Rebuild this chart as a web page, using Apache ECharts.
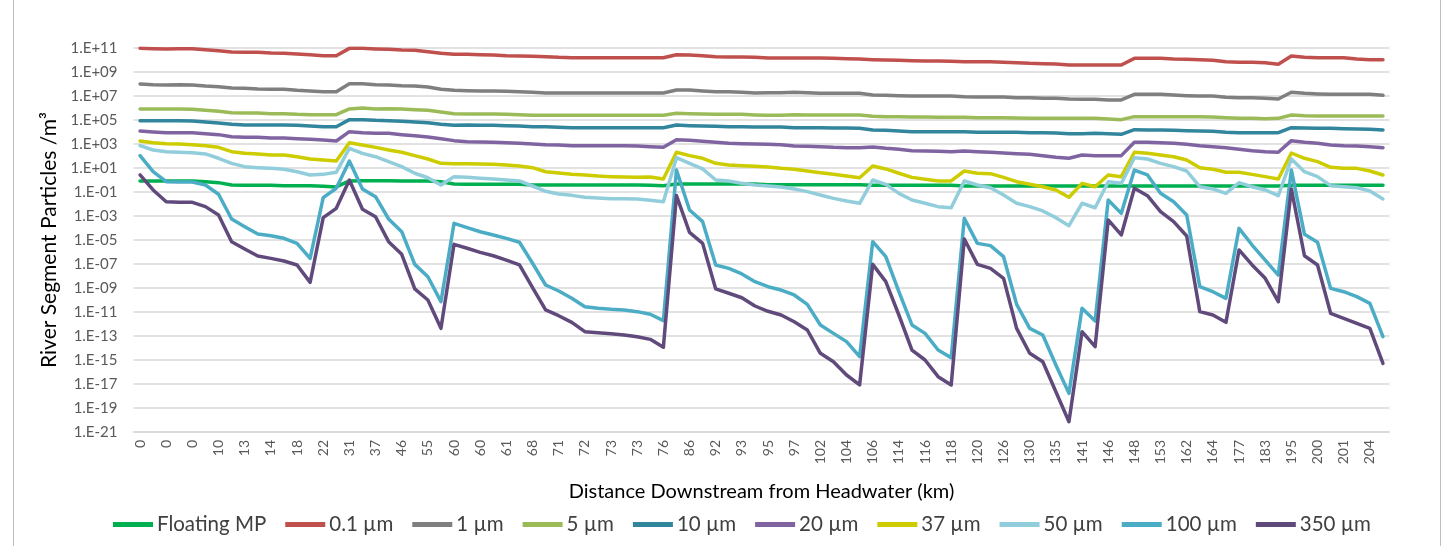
<!DOCTYPE html>
<html>
<head>
<meta charset="utf-8">
<title>River Segment Particles</title>
<script src="https://cdn.jsdelivr.net/npm/echarts@6/dist/echarts.min.js"></script>
<style>
  html, body { margin: 0; padding: 0; background: #ffffff; }
  #chart { width: 1452px; height: 546px; }
</style>
</head>
<body>
<div id="chart"></div>
<script>
// Distance labels (km) shown under every second station; the stations in between are unlabelled.
const distanceLabels = ['0','0','0','10','13','14','18','22','31','37','46','55','60','60','61','68',
  '71','72','73','73','76','86','92','93','95','97','102','104','106','114','116','118',
  '120','126','130','135','141','146','148','153','162','164','177','183','195','200','201','204'];
const stationCount = 96;

// Concentrations per river segment, stored as log10(particles / m^3).
const floatingMP = [-0.08,-0.08,-0.08,-0.08,-0.08,-0.14,-0.22,-0.42,-0.44,-0.44,-0.44,-0.47,-0.47,-0.47,-0.53,-0.58,
  -0.08,-0.06,-0.06,-0.06,-0.08,-0.08,-0.08,-0.14,-0.33,-0.36,-0.36,-0.36,-0.36,-0.36,-0.42,-0.42,
  -0.42,-0.42,-0.42,-0.42,-0.42,-0.42,-0.42,-0.44,-0.47,-0.33,-0.33,-0.33,-0.33,-0.33,-0.33,-0.33,
  -0.39,-0.39,-0.39,-0.39,-0.39,-0.39,-0.39,-0.39,-0.44,-0.44,-0.44,-0.44,-0.44,-0.44,-0.44,-0.5,
  -0.5,-0.5,-0.5,-0.5,-0.5,-0.5,-0.5,-0.5,-0.5,-0.5,-0.5,-0.5,-0.5,-0.5,-0.5,-0.5,
  -0.5,-0.5,-0.5,-0.5,-0.5,-0.5,-0.5,-0.5,-0.44,-0.44,-0.44,-0.44,-0.44,-0.44,-0.44,-0.44];
const size0_1 = [10.97,10.94,10.92,10.94,10.94,10.86,10.78,10.67,10.64,10.64,10.58,10.56,10.5,10.44,10.36,10.36,
  10.97,10.97,10.92,10.89,10.83,10.81,10.69,10.56,10.47,10.47,10.44,10.42,10.36,10.33,10.31,10.28,
  10.22,10.19,10.19,10.19,10.19,10.19,10.19,10.19,10.19,10.44,10.42,10.36,10.28,10.25,10.25,10.22,
  10.17,10.17,10.17,10.17,10.17,10.14,10.11,10.08,10.03,10.0,9.97,9.94,9.92,9.92,9.89,9.86,
  9.86,9.86,9.81,9.78,9.72,9.69,9.67,9.58,9.58,9.58,9.58,9.58,10.14,10.14,10.14,10.08,
  10.06,10.03,9.97,9.86,9.81,9.81,9.78,9.64,10.33,10.22,10.19,10.19,10.19,10.08,10.03,10.03];
const size1 = [8.0,7.94,7.92,7.94,7.92,7.83,7.78,7.67,7.64,7.58,7.56,7.56,7.47,7.42,7.36,7.36,
  8.03,8.03,7.94,7.92,7.86,7.83,7.75,7.56,7.47,7.44,7.42,7.42,7.39,7.36,7.31,7.25,
  7.25,7.25,7.25,7.25,7.25,7.25,7.25,7.25,7.25,7.5,7.5,7.42,7.36,7.36,7.31,7.25,
  7.28,7.28,7.31,7.28,7.22,7.22,7.22,7.22,7.08,7.06,7.03,7.0,7.0,7.0,7.0,6.94,
  6.92,6.92,6.92,6.86,6.86,6.81,6.81,6.75,6.72,6.72,6.67,6.67,7.14,7.14,7.14,7.08,
  7.03,7.0,7.0,6.89,6.86,6.86,6.81,6.75,7.31,7.22,7.17,7.14,7.14,7.14,7.14,7.06];
const size5 = [5.92,5.92,5.92,5.92,5.89,5.81,5.72,5.61,5.58,5.58,5.53,5.53,5.47,5.44,5.44,5.44,
  5.92,6.0,5.92,5.94,5.92,5.86,5.81,5.67,5.53,5.5,5.5,5.5,5.47,5.44,5.39,5.39,
  5.39,5.39,5.39,5.39,5.39,5.39,5.39,5.39,5.39,5.56,5.53,5.5,5.47,5.47,5.47,5.42,
  5.39,5.39,5.44,5.42,5.42,5.42,5.42,5.42,5.31,5.28,5.28,5.25,5.25,5.22,5.22,5.22,
  5.19,5.19,5.19,5.17,5.14,5.14,5.14,5.14,5.14,5.14,5.08,5.03,5.28,5.28,5.28,5.28,
  5.28,5.28,5.25,5.19,5.14,5.14,5.11,5.14,5.42,5.36,5.33,5.33,5.33,5.33,5.33,5.33];
const size10 = [4.94,4.94,4.94,4.94,4.92,4.83,4.75,4.64,4.58,4.58,4.58,4.58,4.56,4.5,4.44,4.44,
  5.03,5.03,4.97,4.94,4.89,4.83,4.78,4.64,4.56,4.58,4.56,4.56,4.53,4.5,4.44,4.44,
  4.39,4.36,4.36,4.36,4.36,4.36,4.36,4.36,4.36,4.58,4.53,4.5,4.47,4.44,4.44,4.42,
  4.42,4.42,4.36,4.36,4.36,4.33,4.33,4.31,4.17,4.14,4.08,4.03,4.03,4.03,4.03,4.03,
  3.97,3.97,3.97,3.97,3.94,3.94,3.92,3.86,3.86,3.89,3.86,3.81,4.19,4.17,4.17,4.14,
  4.11,4.08,4.06,3.97,3.94,3.94,3.94,3.94,4.36,4.33,4.31,4.31,4.28,4.25,4.22,4.17];
const size20 = [4.08,4.0,3.94,3.94,3.94,3.86,3.78,3.61,3.56,3.56,3.5,3.5,3.44,3.39,3.33,3.25,
  4.03,3.94,3.89,3.89,3.78,3.69,3.58,3.44,3.28,3.19,3.17,3.14,3.11,3.06,3.0,2.94,
  2.92,2.86,2.86,2.86,2.86,2.86,2.83,2.78,2.72,3.36,3.31,3.22,3.14,3.06,3.03,3.0,
  2.97,2.94,2.83,2.81,2.78,2.72,2.69,2.69,2.75,2.64,2.56,2.44,2.42,2.39,2.36,2.42,
  2.36,2.31,2.25,2.19,2.14,2.03,1.89,1.81,2.08,2.03,2.03,2.03,3.14,3.14,3.11,3.06,
  2.97,2.86,2.78,2.69,2.56,2.44,2.36,2.31,3.28,3.14,3.06,2.92,2.86,2.83,2.78,2.69];
const size37 = [3.25,3.11,3.03,3.0,2.94,2.86,2.72,2.36,2.22,2.17,2.08,2.08,1.94,1.75,1.67,1.58,
  3.11,2.92,2.72,2.5,2.31,2.03,1.75,1.39,1.36,1.36,1.33,1.31,1.25,1.17,1.03,0.69,
  0.58,0.47,0.42,0.33,0.28,0.25,0.22,0.25,0.08,2.31,2.03,1.81,1.39,1.25,1.19,1.14,
  1.08,0.97,0.89,0.75,0.61,0.47,0.33,0.19,1.17,0.92,0.56,0.22,0.06,-0.08,-0.08,0.75,
  0.56,0.53,0.22,-0.14,-0.36,-0.56,-0.83,-1.44,-0.28,-0.56,0.42,0.28,2.31,2.22,2.08,1.94,
  1.67,1.03,0.89,0.64,0.64,0.47,0.28,0.08,2.25,1.81,1.53,1.06,0.97,0.97,0.75,0.42];
const size50 = [2.86,2.5,2.36,2.31,2.28,2.17,1.81,1.39,1.11,1.03,0.97,0.89,0.69,0.42,0.47,0.64,
  2.64,2.22,1.94,1.53,1.11,0.56,0.19,-0.42,0.28,0.22,0.14,0.08,0.0,-0.08,-0.5,-0.94,
  -1.17,-1.28,-1.44,-1.5,-1.56,-1.56,-1.58,-1.69,-1.81,1.86,1.39,0.92,0.0,-0.08,-0.28,-0.42,
  -0.5,-0.58,-0.75,-0.97,-1.25,-1.53,-1.75,-1.94,0.0,-0.36,-1.11,-1.67,-1.94,-2.22,-2.31,-0.08,
  -0.42,-0.64,-1.25,-1.94,-2.22,-2.58,-3.14,-3.81,-1.94,-2.31,-0.14,-0.28,1.86,1.75,1.39,1.11,
  0.75,-0.56,-0.75,-1.11,-0.22,-0.56,-0.83,-1.31,1.75,0.69,0.28,-0.47,-0.56,-0.64,-0.92,-1.58];
const size100 = [2.03,0.69,-0.14,-0.17,-0.17,-0.42,-1.19,-3.25,-3.89,-4.5,-4.64,-4.86,-5.28,-6.53,-1.47,-0.69,
  1.58,-0.75,-1.39,-3.25,-4.31,-7.03,-8.06,-10.14,-3.61,-3.97,-4.31,-4.58,-4.86,-5.19,-6.94,-8.75,
  -9.25,-9.86,-10.56,-10.69,-10.78,-10.83,-10.97,-11.19,-11.72,0.83,-2.5,-3.47,-7.08,-7.36,-7.83,-8.47,
  -8.89,-9.17,-9.58,-10.36,-12.08,-12.78,-13.47,-14.72,-5.14,-6.39,-9.31,-12.08,-12.78,-14.17,-14.81,-3.19,
  -5.28,-5.47,-6.39,-10.36,-12.36,-12.92,-15.42,-17.78,-10.69,-11.75,-1.67,-2.78,0.83,0.42,-1.11,-1.81,
  -2.92,-8.89,-9.31,-9.86,-4.03,-5.42,-6.67,-7.92,0.83,-4.53,-5.19,-9.03,-9.31,-9.72,-10.28,-13.06];
const size350 = [0.42,-0.83,-1.81,-1.86,-1.86,-2.22,-2.92,-5.14,-5.75,-6.33,-6.53,-6.75,-7.08,-8.53,-3.14,-2.36,
  0.0,-2.44,-3.06,-5.14,-6.19,-9.08,-10.0,-12.36,-5.36,-5.69,-6.03,-6.31,-6.67,-7.08,-8.97,-10.83,
  -11.31,-11.86,-12.64,-12.72,-12.81,-12.92,-13.06,-13.28,-13.94,-1.3,-4.36,-5.28,-9.08,-9.44,-9.81,-10.5,
  -10.94,-11.25,-11.81,-12.5,-14.44,-15.14,-16.25,-17.08,-7.03,-8.47,-11.25,-14.17,-15.0,-16.39,-17.08,-4.92,
  -7.03,-7.36,-8.19,-12.36,-14.44,-15.14,-17.64,-20.14,-12.64,-13.89,-3.33,-4.58,-0.69,-1.31,-2.64,-3.47,
  -4.67,-10.97,-11.25,-11.86,-5.83,-7.08,-8.19,-10.14,-0.75,-6.31,-7.08,-11.11,-11.53,-11.94,-12.36,-15.28];

const seriesNames = ['Floating MP','0.1 µm','1 µm','5 µm','10 µm','20 µm','37 µm','50 µm','100 µm','350 µm'];
const seriesValues = [floatingMP, size0_1, size1, size5, size10, size20, size37, size50, size100, size350];
const seriesColors = ['#00B050','#C0504D','#7F7F7F','#9BBB59','#31859C','#8064A2','#CCCC00','#92CDDC','#4BACC6','#604A7B'];

// Decade range of the value axis: 1.E-21 .. 1.E+11, a gridline every two decades.
const expMin = -21;
const expMax = 11;

const categories = [];
for (let i = 0; i < stationCount; i++) {
  categories.push(i % 2 === 0 ? distanceLabels[i / 2] : '');
}

function sciLabel(exp) {
  const sign = exp < 0 ? '-' : '+';
  const a = Math.abs(exp);
  return '1.E' + sign + (a < 10 ? '0' + a : String(a));
}

const FONT = 'Lato, "Liberation Sans", sans-serif';
const chart = echarts.init(document.getElementById('chart'), null, { renderer: 'canvas' });

chart.setOption({
  backgroundColor: '#ffffff',
  animation: false,
  textStyle: { fontFamily: FONT },
  graphic: [{
    type: 'rect',
    shape: { x: 13.5, y: -2, width: 1427, height: 560 },
    style: { fill: 'none', stroke: '#BFBFBF', lineWidth: 1 },
    silent: true
  }],
  grid: { left: 133.5, right: 62.5, top: 48, bottom: 114, containLabel: false },
  legend: {
    data: seriesNames,
    left: 108,
    top: 509,
    icon: 'rect',
    itemWidth: 40,
    itemHeight: 5,
    itemGap: 19,
    textStyle: { fontFamily: FONT, fontSize: 20.5, color: '#404040', padding: [0, 0, 0, -1] }
  },
  xAxis: {
    type: 'category',
    data: categories,
    boundaryGap: true,
    name: 'Distance Downstream from Headwater (km)',
    nameLocation: 'middle',
    nameGap: 50,
    nameTextStyle: { fontFamily: FONT, fontSize: 20, color: '#000000' },
    axisLine: { show: true, lineStyle: { color: '#D9D9D9', width: 1.5 } },
    axisTick: { show: false },
    axisLabel: { interval: 1, rotate: 90, margin: 8, fontFamily: FONT, fontSize: 14, color: '#595959' },
    splitLine: { show: false }
  },
  yAxis: {
    type: 'value',
    min: 0,
    max: expMax - expMin,
    interval: 2,
    name: 'River Segment Particles /m³',
    nameLocation: 'middle',
    nameRotate: 90,
    nameGap: 74,
    nameTextStyle: { fontFamily: FONT, fontSize: 21, color: '#000000' },
    axisLine: { show: false },
    axisTick: { show: false },
    axisLabel: {
      margin: 16,
      fontFamily: FONT, fontSize: 15, color: '#595959',
      formatter: v => sciLabel(Math.round(v + expMin))
    },
    splitLine: { show: true, lineStyle: { color: '#D9D9D9', width: 1.5 } }
  },
  series: seriesNames.map((name, k) => ({
    name: name,
    type: 'line',
    data: seriesValues[k].map(v => v - expMin),
    symbol: 'none',
    smooth: false,
    color: seriesColors[k],
    lineStyle: { width: 3.5, color: seriesColors[k], join: 'round', cap: 'round' },
    emphasis: { disabled: true }
  }))
});
</script>
</body>
</html>
